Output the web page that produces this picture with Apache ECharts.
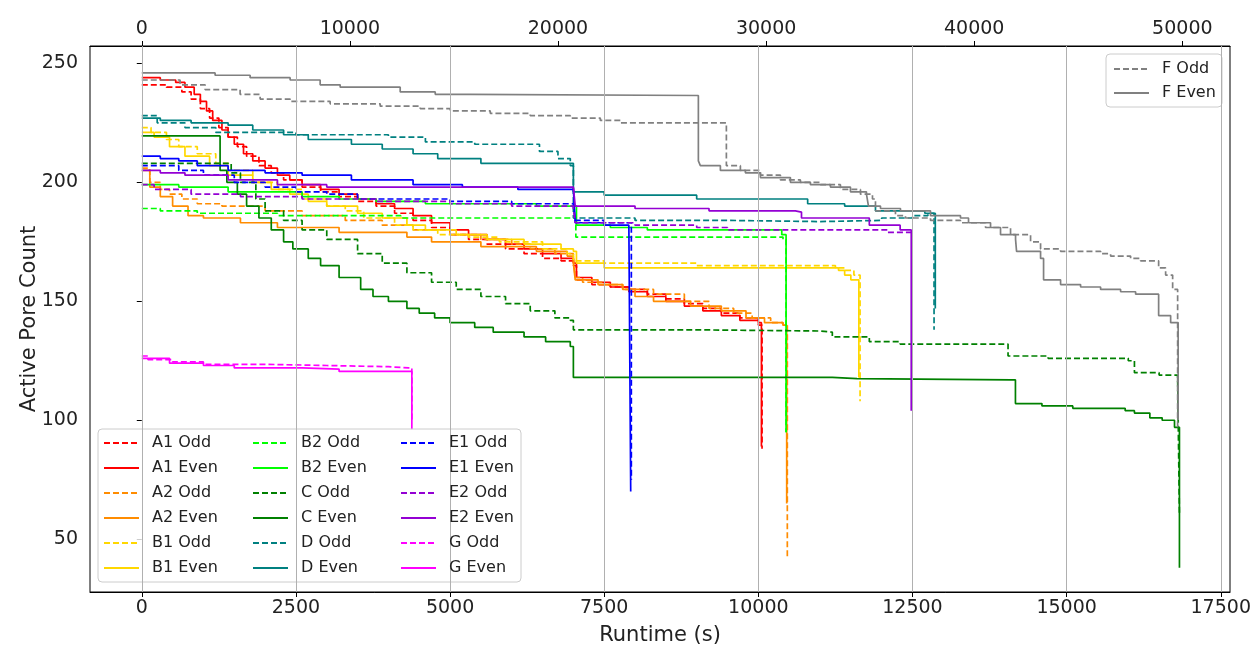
<!DOCTYPE html>
<html><head><meta charset="utf-8">
<script src="https://cdn.jsdelivr.net/npm/echarts@6/dist/echarts.min.js"></script>
<style>html,body{margin:0;padding:0;background:#fff}#c{width:1254px;height:648px}</style>
</head><body><div id="c"></div>
<script>
// ---- tick labels ----
const bottomTicks = [0, 2500, 5000, 7500, 10000, 12500, 15000, 17500];
const topTicks = [0, 10000, 20000, 30000, 40000, 50000];
const yTicks = [50, 100, 150, 200, 250];

// ---- series values: [runtime (s), active pore count] ----
const a1Odd = [[0,241],[400,240],[650,238],[800,235],[950,231],[1100,227],[1250,223],[1400,219],[1550,215],[1700,211],[1900,207],[2100,204],[2300,201],[2600,198],[2900,196],[3200,194],[3500,192],[3800,190],[4100,187],[4400,184],[4700,181],[5000,178],[5300,176],[5600,174],[5900,172],[6200,170],[6500,168],[6800,167],[7000,165],[7050,159],[7300,157],[7600,156],[7900,155],[8200,153],[8500,151],[8800,149],[9100,147],[9400,145],[9700,143],[10000,140],[10060,88]];
const a1Even = [[0,244],[300,243],[550,242],[700,240],[850,237],[950,234],[1050,230],[1150,226],[1300,222],[1400,219],[1500,216],[1650,212],[1800,209],[2000,206],[2200,203],[2400,201],[2600,199],[2900,197],[3200,195],[3500,193],[3800,191],[4100,189],[4400,186],[4700,183],[5000,180],[5300,178],[5600,176],[5900,174],[6200,172],[6500,170],[6800,168],[7000,166],[7050,160],[7300,158],[7600,156],[7900,154],[8200,152],[8500,150],[8800,148],[9100,146],[9400,144],[9700,142],[10000,141],[10050,89]];
const a2Odd = [[0,206],[130,200],[300,197],[450,195],[650,193],[900,191],[1300,190],[2000,188],[2600,186],[3300,184],[3900,182],[4400,180],[5000,178],[5500,176],[6000,174],[6300,172],[6700,170],[7000,168],[7030,160],[7150,158],[7500,157],[7800,155],[8300,153],[8800,150],[9200,147],[9600,145],[9900,143],[10200,141],[10400,140],[10470,42]];
const a2Even = [[0,205],[130,198],[300,194],[500,190],[750,186],[1000,185],[1600,183],[2200,181],[3200,179],[4300,177],[4700,175],[5500,173],[6400,171],[6900,169],[7000,166],[7030,159],[7400,157],[7800,155],[8000,152],[8300,150],[8900,148],[9400,146],[9800,143],[10100,141],[10400,140],[10460,65]];
const b1Odd = [[0,223],[150,221],[400,218],[600,215],[900,212],[1200,208],[1400,205],[1800,200],[2200,197],[2600,193],[3000,190],[3300,188],[3600,185],[4100,182],[4400,180],[4800,178],[5300,177],[5800,175],[6500,172],[6900,170],[7000,167],[7500,166],[9000,165],[10500,165],[11250,164],[11400,163],[11550,161],[11650,108]];
const b1Even = [[0,221],[200,219],[450,215],[700,211],[1100,207],[1400,203],[1800,200],[2100,197],[2400,195],[2700,192],[3000,190],[3500,187],[3900,185],[4300,182],[4600,180],[5100,178],[5600,176],[6200,174],[6800,172],[7000,171],[7050,166],[7500,164],[9500,164],[11300,163],[11400,161],[11500,159],[11630,118]];
const b2Odd = [[0,189],[300,188],[900,187],[2200,186],[4200,185],[7000,185],[7040,177],[9000,177],[10400,176],[10450,95]];
const b2Even = [[0,199],[600,198],[1400,196],[2600,194],[3200,193],[3800,192],[4600,191],[6400,190],[7000,190],[7050,182],[7600,181],[8200,180],[10300,180],[10380,178],[10450,95]];
const cOdd = [[0,208],[1350,208],[1450,204],[1600,200],[1850,193],[2000,188],[2300,184],[2600,180],[3000,176],[3500,170],[3900,166],[4300,162],[4700,158],[5100,155],[5500,152],[5900,149],[6300,146],[6700,143],[6950,142],[7000,138],[9000,137.5],[11000,137],[11200,135],[11800,133],[12300,132],[13900,132],[14050,127],[14700,126],[15900,126],[16000,125],[16100,120],[16500,119],[16800,119],[16830,60]];
const cEven = [[0,219.5],[1200,219.5],[1270,205],[1380,200],[1550,195],[1700,190],[1900,185],[2100,180],[2300,175],[2450,172],[2700,168],[2900,165],[3200,160],[3550,155],[3750,152],[4000,150],[4300,147],[4500,145],[4750,143],[5000,141],[5400,139],[5700,137],[6200,135],[6550,133],[6950,131],[7000,118],[11150,118],[11200,117.5],[11600,117],[14100,117],[14170,107],[14600,106],[15100,105],[15950,104],[16100,103],[16350,101],[16550,100],[16750,97],[16830,38]];
const dOdd = [[0,228],[250,225],[700,223],[1200,221],[2500,220],[4000,219],[4600,217],[5400,216],[6450,213],[6750,210],[6950,207],[7000,185],[8000,184],[9500,183.5],[11000,184],[12000,185],[12500,186],[12750,187],[12850,138]];
const dEven = [[0,227],[300,226],[800,225],[1400,224],[1800,222],[2300,220],[2700,218],[3400,216],[3900,214],[4400,212],[4800,210],[5500,208],[6950,208],[7000,196],[7500,194.6],[9000,193],[10800,191],[11400,190],[11900,188],[12700,187],[12870,147]];
const e1Odd = [[0,207],[600,205],[1000,203],[1500,200],[2000,198],[2500,196],[3000,195],[3500,193],[4500,193],[5000,192],[6000,191],[7000,191],[7030,184],[7500,183],[7900,183],[7940,75]];
const e1Even = [[0,211],[300,210],[600,209],[900,207],[1400,205],[2000,204],[2600,203],[3400,201],[4400,199],[5200,198],[6100,197],[7000,197],[7030,183],[7500,182],[7900,182],[7930,70]];
const e2Odd = [[0,199],[200,197],[800,195],[1600,194],[2600,193],[3800,192],[5000,191],[6000,190],[7000,189],[7030,183],[8000,182],[9000,181],[9500,180],[11900,180],[12100,179],[12450,179],[12490,110]];
const e2Even = [[0,205],[300,204],[700,203],[1400,201],[2200,199],[3000,198],[7000,198],[7030,190],[8000,189],[9200,188],[10600,187.5],[10700,185],[11700,185],[11800,182],[12250,182],[12300,180],[12480,104]];
const gOdd = [[0,127],[100,125.5],[500,124.5],[1000,123.5],[2000,123],[3000,122.5],[4000,122],[4330,122],[4380,100]];
const gEven = [[0,126],[450,124],[1000,123],[1500,122],[2600,121.5],[3200,120.5],[4330,120.5],[4380,96]];
// F runs on the top axis
const fOdd = [[0,243],[1841,241],[3043,239],[4726,237],[5688,235],[7130,234],[9053,233],[11457,232],[13380,231],[14822,230],[16745,229],[18668,228],[20591,227],[22034,226],[22995,225],[28091,207],[28764,205],[29726,203],[30688,201],[31649,200],[32611,199],[33572,197],[34534,195],[35111,193],[35255,188],[36216,186],[36697,185],[37899,184],[39341,183],[40543,181],[41745,178],[42707,175],[43188,172],[44149,171],[46072,170],[46553,169],[47514,168],[47995,167],[48861,164],[49197,161],[49534,155],[49774,96]];
const fEven = [[0,246],[3524,245],[5207,244],[7130,243],[8572,241],[9534,240],[12418,238],[14101,237],[15784,236.5],[26745,209],[26841,207],[27803,205],[29005,204],[29726,202],[31168,200],[32130,199],[33091,198],[34053,196],[34822,195],[34918,190],[35495,189],[36457,188],[37899,186],[39341,185],[39726,183],[40784,181],[41264,178],[41986,176],[42034,171],[43188,168],[43332,159],[44149,157],[45111,156],[46072,155],[47034,154],[47755,153],[48861,144],[49438,141],[49800,100]];

const leg1 = ['A1 Odd','A1 Even','A2 Odd','A2 Even','B1 Odd','B1 Even'];
const leg2 = ['B2 Odd','B2 Even','C Odd','C Even','D Odd','D Even'];
const leg3 = ['E1 Odd','E1 Even','E2 Odd','E2 Even','G Odd','G Even'];
const leg4 = ['F Odd','F Even'];

const defs = [
  ['A1 Odd', a1Odd, '#ff0000', true, 0], ['A1 Even', a1Even, '#ff0000', false, 0],
  ['A2 Odd', a2Odd, '#ff8c00', true, 0], ['A2 Even', a2Even, '#ff8c00', false, 0],
  ['B1 Odd', b1Odd, '#ffd700', true, 0], ['B1 Even', b1Even, '#ffd700', false, 0],
  ['B2 Odd', b2Odd, '#00ff00', true, 0], ['B2 Even', b2Even, '#00ff00', false, 0],
  ['C Odd', cOdd, '#008000', true, 0], ['C Even', cEven, '#008000', false, 0],
  ['D Odd', dOdd, '#008080', true, 0], ['D Even', dEven, '#008080', false, 0],
  ['E1 Odd', e1Odd, '#0000ff', true, 0], ['E1 Even', e1Even, '#0000ff', false, 0],
  ['E2 Odd', e2Odd, '#9400d3', true, 0], ['E2 Even', e2Even, '#9400d3', false, 0],
  ['G Odd', gOdd, '#ff00ff', true, 0], ['G Even', gEven, '#ff00ff', false, 0],
  ['F Odd', fOdd, '#808080', true, 1], ['F Even', fEven, '#808080', false, 1]
];

const FONT = 'DejaVu Sans';
const plain = v => String(v);
const series = [{
  type: 'line', name: '_grid', data: [], xAxisIndex: 0, yAxisIndex: 0, silent: true, z: 1,
  markLine: { silent: true, symbol: ['none','none'], label: {show:false}, animation: false,
    lineStyle: { color: '#b0b0b0', width: 1, type: 'solid' },
    data: bottomTicks.map(v => ({ xAxis: v })) }
}];
defs.forEach(d => {
  series.push({
    type: 'line', name: d[0], data: d[1], step: 'end', xAxisIndex: d[4], yAxisIndex: 0,
    symbol: 'none', showSymbol: false, z: 2,
    lineStyle: { color: d[2], width: 1.7, type: d[3] ? [6, 3] : 'solid' },
    itemStyle: { color: d[2] }
  });
});

function legend(data, left, top, gap) {
  return { data: data, orient: 'vertical', left: left, top: top, itemWidth: 35, itemHeight: 16,
    itemGap: gap, padding: 0, z: 6,
    itemStyle: { opacity: 0, borderWidth: 0 },
    textStyle: { fontFamily: FONT, fontSize: 16, color: '#222', lineHeight: 16, padding: [0, 0, 0, 8] } };
}

const option = {
  animation: false,
  backgroundColor: '#fff',
  grid: { left: 90, right: 24, top: 46, bottom: 56, show: true, borderColor: '#000', borderWidth: 1,
    backgroundColor: 'transparent', outerBoundsMode: 'none', containLabel: false },
  xAxis: [
    { type: 'value', position: 'bottom', min: -840, max: 17650,
      name: 'Runtime (s)', nameLocation: 'middle', nameGap: 33, nameMoveOverlap: false,
      nameTextStyle: { fontFamily: FONT, fontSize: 21, color: '#222' },
      axisLine: { show: true, lineStyle: { color: '#000' } },
      axisTick: { show: true, length: 5, inside: false, customValues: bottomTicks, lineStyle: { color: '#000' } },
      axisLabel: { customValues: bottomTicks, formatter: plain, fontFamily: FONT, fontSize: 19, color: '#222', margin: 7 },
      splitLine: { show: false } },
    { type: 'value', position: 'top', min: -2487, max: 52290,
      axisLine: { show: true, lineStyle: { color: '#000' } },
      axisTick: { show: true, length: 5, customValues: topTicks, lineStyle: { color: '#000' } },
      axisLabel: { customValues: topTicks, formatter: plain, fontFamily: FONT, fontSize: 19, color: '#222', margin: 7 },
      splitLine: { show: false } }
  ],
  yAxis: [{ type: 'value', min: 27.8, max: 257.3,
    name: 'Active Pore Count', nameLocation: 'middle', nameGap: 50, nameRotate: 90, nameMoveOverlap: false,
    nameTextStyle: { fontFamily: FONT, fontSize: 21, color: '#222' },
    axisLine: { show: true, lineStyle: { color: '#000' } },
    axisTick: { show: true, length: 5, customValues: yTicks, lineStyle: { color: '#000' } },
    axisLabel: { customValues: yTicks, formatter: plain, fontFamily: FONT, fontSize: 19, color: '#222', margin: 12 },
    splitLine: { show: false } }],
  legend: [legend(leg1, 103, 435, 9), legend(leg2, 252, 435, 9), legend(leg3, 400, 435, 9), legend(leg4, 1113, 61, 8)],
  graphic: [
    { type: 'rect', shape: { x: 98, y: 429, width: 423, height: 153, r: 4 }, z: 5,
      style: { fill: 'rgba(255,255,255,0.8)', stroke: '#cccccc', lineWidth: 1 } },
    { type: 'rect', shape: { x: 1106, y: 54, width: 116, height: 53, r: 4 }, z: 5,
      style: { fill: 'rgba(255,255,255,0.8)', stroke: '#cccccc', lineWidth: 1 } }
  ],
  series: series
};
const chart = echarts.init(document.getElementById('c'), null, { renderer: 'canvas' });
chart.setOption(option);
</script></body></html>
